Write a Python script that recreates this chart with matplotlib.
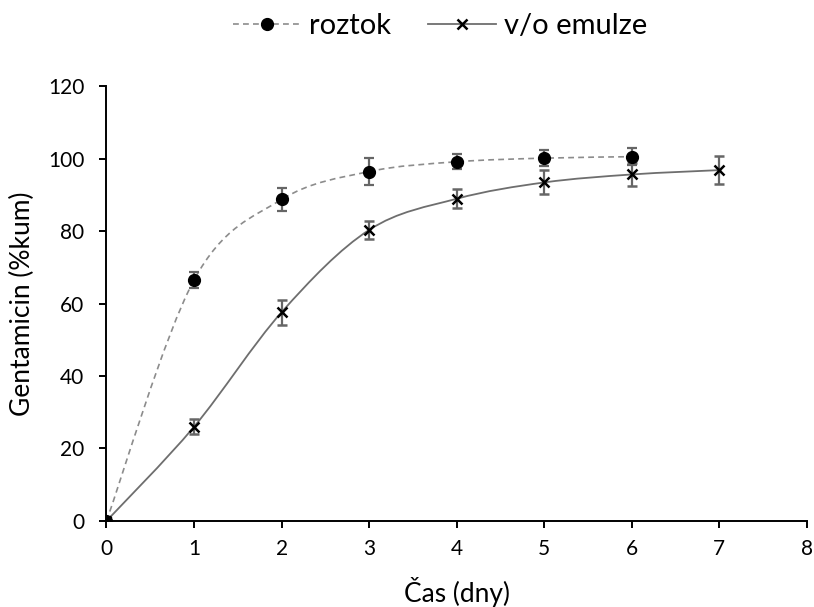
import numpy as np
import matplotlib
matplotlib.use("Agg")
import matplotlib.pyplot as plt
from matplotlib.path import Path
from matplotlib.patches import PathPatch
from matplotlib.lines import Line2D

# data
days_roztok = [0, 1, 2, 3, 4, 5, 6]
roztok = [0, 66.5, 88.7, 96.4, 99.1, 100.1, 100.5]
roztok_err = [0, 2.2, 3.3, 3.7, 2.1, 2.2, 2.4]

days_emulze = [0, 1, 2, 3, 4, 5, 6, 7]
emulze = [0, 26.0, 57.6, 80.3, 88.9, 93.4, 95.6, 96.8]
emulze_err = [0, 2.0, 3.4, 2.5, 2.6, 3.3, 3.1, 3.8]

plt.rcParams['font.family'] = ['Lato', 'DejaVu Sans']


def smooth_path(xs, ys):
    """Excel-like smoothed line as cubic bezier segments"""
    p = np.column_stack([xs, ys]).astype(float)
    n = len(p)
    verts = [p[0]]
    codes = [Path.MOVETO]
    for i in range(n - 1):
        p0 = p[i - 1] if i > 0 else p[i]
        p3 = p[i + 2] if i + 2 < n else p[i + 1]
        c1 = p[i] + (p[i + 1] - p0) / 6
        c2 = p[i + 1] - (p3 - p[i]) / 6
        verts += [c1, c2, p[i + 1]]
        codes += [Path.CURVE4] * 3
    return Path(verts, codes)


fig = plt.figure(figsize=(8.14, 6.07), dpi=100)
ax = fig.add_axes([0.1308, 0.1417, 0.8606, 0.7166])

ax.add_patch(PathPatch(smooth_path(days_roztok, roztok), fill=False,
                       edgecolor='#8c8c8c', lw=1.2, ls=(0, (3.5, 2.5))))
ax.add_patch(PathPatch(smooth_path(days_emulze, emulze), fill=False,
                       edgecolor='#6e6e6e', lw=1.3))

ax.errorbar(days_roztok, roztok, yerr=roztok_err, fmt='o', color='black',
            ms=8.5, ecolor='#666666', elinewidth=1.6, capsize=3.8,
            capthick=1.6, zorder=3)
ax.errorbar(days_emulze, emulze, yerr=emulze_err, fmt='x', color='black',
            ms=7.5, mew=1.8, ecolor='#666666', elinewidth=1.6, capsize=3.8,
            capthick=1.6, zorder=3)

ax.set_xlim(0, 8)
ax.set_ylim(0, 120)
ax.set_xticks(range(0, 9))
ax.set_yticks(range(0, 121, 20))
for s in ['top', 'right']:
    ax.spines[s].set_visible(False)
for s in ['left', 'bottom']:
    ax.spines[s].set_linewidth(1.4)
ax.tick_params(direction='out', length=5, width=1.4, labelsize=15)
ax.tick_params(axis='x', pad=8)
ax.tick_params(axis='y', pad=11)
ax.set_xlabel('Čas (dny)', fontsize=19, labelpad=13)
ax.set_ylabel('Gentamicin (%kum)', fontsize=19, labelpad=9)

handles = [
    Line2D([], [], color='#8c8c8c', lw=1.2, ls=(0, (3.5, 2.5)), marker='o',
           mfc='black', mec='black', ms=8.5),
    Line2D([], [], color='#6e6e6e', lw=1.3, marker='x', mec='black',
           ms=7.5, mew=1.8),
]
fig.legend(handles, ['roztok', 'v/o emulze'], loc='center',
           bbox_to_anchor=(0.541, 0.957), ncol=2, frameon=False,
           fontsize=21, handlelength=2.33, columnspacing=1.27,
           handletextpad=0.28)

fig.savefig('out.png', dpi=100)
